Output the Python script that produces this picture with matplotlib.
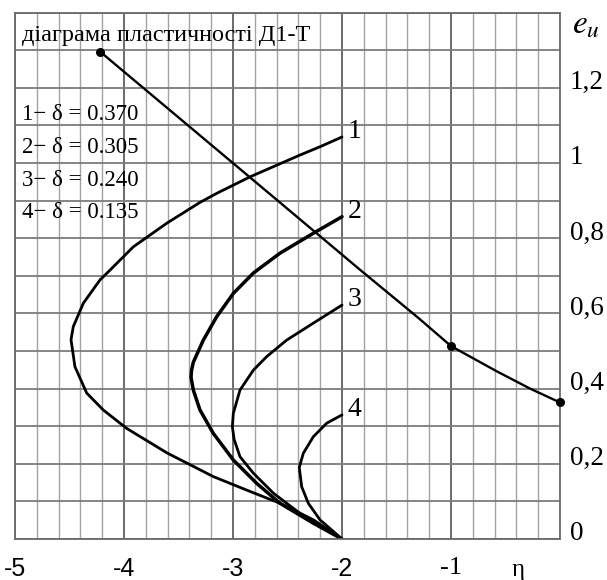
import numpy as np
import matplotlib.pyplot as plt
from matplotlib.transforms import ScaledTranslation, blended_transform_factory

plt.rcParams['mathtext.fontset'] = 'stix'

# Strain paths e_u(eta) for four reductions, all starting at (-2, 0)
eta1 = [-2.0, -2.263, -2.569, -2.874, -3.181, -3.606, -3.975, -4.190, -4.342, -4.450,
        -4.486, -4.465, -4.373, -4.220, -4.128, -4.035, -3.914, -3.606,
        -3.303, -3.150, -2.844, -2.385, -2.202, -2.0]
e1 = [0.0, 0.051, 0.095, 0.130, 0.166, 0.229, 0.294, 0.343, 0.388, 0.458,
      0.530, 0.565, 0.627, 0.689, 0.715, 0.742, 0.777, 0.840,
      0.895, 0.919, 0.963, 1.021, 1.043, 1.069]

eta2 = [-2.0, -2.263, -2.569, -2.783, -2.997, -3.181, -3.303, -3.364, -3.385,
        -3.380, -3.364, -3.272, -3.150, -2.997, -2.814, -2.569, -2.263, -2.0]
e2 = [0.0, 0.042, 0.095, 0.148, 0.210, 0.281, 0.343, 0.396, 0.430,
      0.449, 0.470, 0.529, 0.591, 0.653, 0.707, 0.760, 0.813, 0.857]

eta3 = [-2.0, -2.385, -2.630, -2.813, -2.936, -2.990, -3.006, -2.997, -2.936, -2.813,
        -2.691, -2.507, -2.263, -2.0]
e3 = [0.0, 0.068, 0.122, 0.175, 0.219, 0.265, 0.299, 0.334, 0.396, 0.449,
      0.485, 0.529, 0.574, 0.622]

eta4 = [-2.0, -2.202, -2.309, -2.370, -2.392, -2.355, -2.263, -2.140, -2.0]
e4 = [0.0, 0.051, 0.095, 0.139, 0.190, 0.228, 0.272, 0.308, 0.330]

# Plasticity diagram of D1-T
eta_p = [-4.22, -2.599, -1.835, -1.3, -1.0, -0.581, -0.275, 0.0]
e_p = [1.296, 0.902, 0.716, 0.588, 0.513, 0.446, 0.400, 0.363]
eta_dots = [-4.22, -1.0, 0.0]
e_dots = [1.296, 0.513, 0.363]

curve_names = ['1', '2', '3', '4']
deltas = ['0.370', '0.305', '0.240', '0.135']

x_ticks = [-5, -4, -3, -2, -1]
x_labels = ['-5', '-4', '-3', '-2', '-1']
y_ticks = [0, 0.2, 0.4, 0.6, 0.8, 1.0, 1.2]
y_labels = ['0', '0,2', '0,4', '0,6', '0,8', '1', '1,2']

fig = plt.figure(figsize=(6.07, 5.8), dpi=100)
ax = fig.add_axes([15 / 607, 41 / 580, 545 / 607, 526.5 / 580])
ax.set_xlim(-5, 0)
ax.set_ylim(0, 1.4)

# grid: 0.2 in eta, 0.1 in e_u, darker lines at whole eta
ax.set_xticks(np.arange(-5, 0.001, 0.2), minor=True)
ax.set_yticks(np.arange(0, 1.401, 0.1), minor=True)
ax.grid(True, which='minor', axis='x', color='#a3a3a3', lw=1.0)
ax.grid(True, which='both', axis='y', color='#7c7c7c', lw=1.3)
ax.grid(True, which='major', axis='x', color='#606060', lw=1.3)
ax.set_axisbelow(True)
for s in ax.spines.values():
    s.set_color('#6a6a6a')
    s.set_linewidth(1.3)

ax.set_xticks(x_ticks, x_labels)
ax.tick_params(axis='x', which='both', length=0, pad=13)
for lab in ax.get_xticklabels():
    lab.set_fontsize(18)
    lab.set_family('Liberation Sans')
ax.get_xticklabels()[-1].set_family('Liberation Serif')
ax.get_xticklabels()[-1].set_fontsize(19)

ax.yaxis.tick_right()
ax.set_yticks(y_ticks, y_labels)
ax.tick_params(axis='y', which='both', length=0, pad=7)
for lab in ax.get_yticklabels():
    lab.set_fontsize(19.5)
    lab.set_family('Liberation Serif')
    lab.set_transform(lab.get_transform() + ScaledTranslation(0, 8 / 100, fig.dpi_scale_trans))

# curves
widths = [2.0, 2.5, 2.0, 2.0]
for eta, e, name, w in zip([eta1, eta2, eta3, eta4], [e1, e2, e3, e4], curve_names, widths):
    ax.plot(eta, e, color='black', lw=w, solid_joinstyle='round', solid_capstyle='round')
    ax.annotate(name, (eta[-1], e[-1]), xytext=(4, 4), textcoords='offset points',
                ha='left', va='center', fontsize=20, family='Liberation Serif')

ax.plot(eta_p, e_p, color='black', lw=1.7, solid_joinstyle='round')
ax.plot(eta_dots, e_dots, 'o', color='black', ms=5.5, clip_on=False, zorder=5)

# captions
ax.text(-4.936, 1.323, 'діаграма пластичності Д1-Т', fontsize=17.5,
        family='Liberation Serif', va='baseline', ha='left')
for i, (name, d) in enumerate(zip(curve_names, deltas)):
    ax.text(-4.936, 1.128 - 0.087 * i, f'{name}\u2212 δ = {d}', fontsize=16.5,
            family='Liberation Serif', va='center', ha='left')

ax.text(1.022, 1.01, r'$e_u$', transform=ax.transAxes, fontsize=24,
        ha='left', va='top')
trans = blended_transform_factory(ax.transData, ax.transAxes)
ax.text(-0.385, -0.059, 'η', transform=trans, fontsize=18,
        family='Liberation Serif', ha='center', va='center')

fig.savefig('out.png', dpi=100)
